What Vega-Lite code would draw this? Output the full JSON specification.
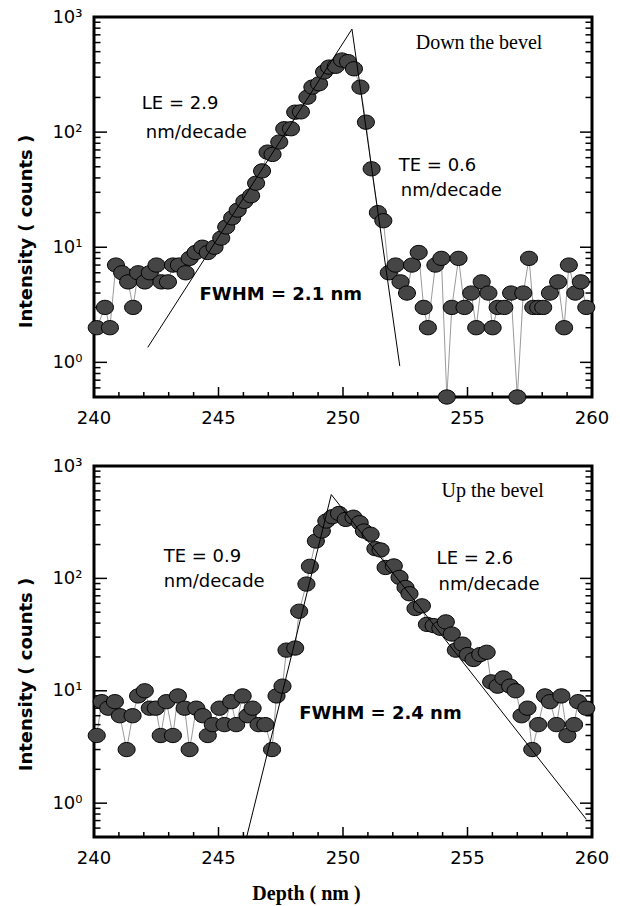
{
  "$schema": "https://vega.github.io/schema/vega-lite/v6.json",
  "padding": {"left": 16, "top": 6, "right": 10, "bottom": 0},
  "spacing": 25,
  "config": {
    "view": {"stroke": "black", "strokeWidth": 3},
    "font": "DejaVu Sans"
  },
  "datasets": {
    "top": [
      {"x": 240.11, "y": 2}, {"x": 240.44, "y": 3}, {"x": 240.64, "y": 2}, {"x": 240.88, "y": 7},
      {"x": 241.13, "y": 6}, {"x": 241.37, "y": 5}, {"x": 241.57, "y": 3}, {"x": 241.77, "y": 6},
      {"x": 242.04, "y": 5}, {"x": 242.24, "y": 6}, {"x": 242.51, "y": 7}, {"x": 242.71, "y": 5},
      {"x": 242.97, "y": 5}, {"x": 243.17, "y": 7}, {"x": 243.41, "y": 7}, {"x": 243.68, "y": 6},
      {"x": 243.84, "y": 8}, {"x": 244.08, "y": 9}, {"x": 244.35, "y": 10}, {"x": 244.57, "y": 9},
      {"x": 244.84, "y": 10}, {"x": 245.11, "y": 12}, {"x": 245.31, "y": 15}, {"x": 245.55, "y": 18},
      {"x": 245.77, "y": 21}, {"x": 246.04, "y": 25}, {"x": 246.31, "y": 28}, {"x": 246.51, "y": 36},
      {"x": 246.75, "y": 46}, {"x": 246.97, "y": 67}, {"x": 247.17, "y": 64}, {"x": 247.44, "y": 82},
      {"x": 247.64, "y": 107}, {"x": 247.91, "y": 107}, {"x": 248.08, "y": 149}, {"x": 248.31, "y": 150},
      {"x": 248.57, "y": 201}, {"x": 248.77, "y": 246}, {"x": 249.04, "y": 263}, {"x": 249.24, "y": 333},
      {"x": 249.44, "y": 367}, {"x": 249.71, "y": 373}, {"x": 249.96, "y": 423}, {"x": 250.2, "y": 410},
      {"x": 250.44, "y": 355}, {"x": 250.7, "y": 246}, {"x": 250.92, "y": 122}, {"x": 251.15, "y": 48},
      {"x": 251.4, "y": 20}, {"x": 251.62, "y": 17}, {"x": 251.84, "y": 6}, {"x": 252.11, "y": 7},
      {"x": 252.31, "y": 5}, {"x": 252.57, "y": 4}, {"x": 252.77, "y": 7}, {"x": 253.04, "y": 9},
      {"x": 253.24, "y": 3}, {"x": 253.41, "y": 2}, {"x": 253.71, "y": 7}, {"x": 253.95, "y": 8},
      {"x": 254.17, "y": 0.5}, {"x": 254.37, "y": 3}, {"x": 254.64, "y": 8}, {"x": 254.88, "y": 3},
      {"x": 255.15, "y": 4}, {"x": 255.35, "y": 2}, {"x": 255.57, "y": 5}, {"x": 255.84, "y": 4},
      {"x": 256.01, "y": 2}, {"x": 256.21, "y": 3}, {"x": 256.48, "y": 3}, {"x": 256.75, "y": 4},
      {"x": 257.0, "y": 0.5}, {"x": 257.24, "y": 4}, {"x": 257.47, "y": 8}, {"x": 257.64, "y": 3},
      {"x": 257.84, "y": 3}, {"x": 258.04, "y": 3}, {"x": 258.31, "y": 4}, {"x": 258.64, "y": 5},
      {"x": 258.88, "y": 2}, {"x": 259.07, "y": 7}, {"x": 259.33, "y": 4}, {"x": 259.55, "y": 5},
      {"x": 259.77, "y": 3}
    ],
    "bottom": [
      {"x": 240.11, "y": 4}, {"x": 240.31, "y": 8}, {"x": 240.57, "y": 7}, {"x": 240.84, "y": 8},
      {"x": 241.04, "y": 6}, {"x": 241.31, "y": 3}, {"x": 241.55, "y": 6}, {"x": 241.77, "y": 9},
      {"x": 242.04, "y": 10}, {"x": 242.24, "y": 7}, {"x": 242.48, "y": 7}, {"x": 242.68, "y": 4},
      {"x": 242.91, "y": 8}, {"x": 243.17, "y": 4}, {"x": 243.37, "y": 9}, {"x": 243.64, "y": 7},
      {"x": 243.84, "y": 3}, {"x": 244.11, "y": 7}, {"x": 244.37, "y": 6}, {"x": 244.57, "y": 4},
      {"x": 244.77, "y": 5}, {"x": 245.04, "y": 7}, {"x": 245.24, "y": 5}, {"x": 245.51, "y": 8},
      {"x": 245.71, "y": 5}, {"x": 245.97, "y": 9}, {"x": 246.17, "y": 6}, {"x": 246.37, "y": 7},
      {"x": 246.61, "y": 5}, {"x": 246.88, "y": 5}, {"x": 247.15, "y": 3}, {"x": 247.33, "y": 9},
      {"x": 247.57, "y": 11}, {"x": 247.73, "y": 23}, {"x": 248.08, "y": 24}, {"x": 248.24, "y": 51},
      {"x": 248.53, "y": 89}, {"x": 248.67, "y": 128}, {"x": 248.91, "y": 215}, {"x": 249.15, "y": 264},
      {"x": 249.33, "y": 324}, {"x": 249.57, "y": 354}, {"x": 249.84, "y": 378}, {"x": 250.11, "y": 335},
      {"x": 250.42, "y": 350}, {"x": 250.67, "y": 313}, {"x": 250.84, "y": 264}, {"x": 251.11, "y": 247},
      {"x": 251.3, "y": 184}, {"x": 251.51, "y": 179}, {"x": 251.71, "y": 125}, {"x": 252.04, "y": 129},
      {"x": 252.27, "y": 102}, {"x": 252.51, "y": 83}, {"x": 252.67, "y": 73}, {"x": 252.91, "y": 54},
      {"x": 253.17, "y": 57}, {"x": 253.37, "y": 39}, {"x": 253.64, "y": 38}, {"x": 253.91, "y": 36},
      {"x": 254.13, "y": 41}, {"x": 254.37, "y": 32}, {"x": 254.53, "y": 23}, {"x": 254.8, "y": 26},
      {"x": 255.01, "y": 21}, {"x": 255.24, "y": 19}, {"x": 255.51, "y": 21}, {"x": 255.77, "y": 22},
      {"x": 255.95, "y": 12}, {"x": 256.21, "y": 11}, {"x": 256.44, "y": 13}, {"x": 256.71, "y": 11},
      {"x": 256.93, "y": 10}, {"x": 257.17, "y": 6}, {"x": 257.41, "y": 7}, {"x": 257.6, "y": 3},
      {"x": 257.84, "y": 5}, {"x": 258.11, "y": 9}, {"x": 258.31, "y": 8}, {"x": 258.57, "y": 5},
      {"x": 258.77, "y": 9}, {"x": 259.01, "y": 4}, {"x": 259.28, "y": 5}, {"x": 259.44, "y": 8},
      {"x": 259.77, "y": 7}
    ],
    "topfit": [{"x": 242.16, "y": 1.35}, {"x": 250.36, "y": 785}, {"x": 252.28, "y": 0.93}],
    "bottomfit": [{"x": 246.13, "y": 0.5}, {"x": 249.53, "y": 557}, {"x": 259.77, "y": 0.72}],
    "toptext": [
      {"x": 241.92, "y": 175, "text": "LE = 2.9"},
      {"x": 242.08, "y": 98, "text": "nm/decade"},
      {"x": 252.24, "y": 50.6, "text": "TE = 0.6"},
      {"x": 252.32, "y": 30.7, "text": "nm/decade"}
    ],
    "topbold": [{"x": 244.24, "y": 3.83, "text": "FWHM = 2.1 nm"}],
    "topserif": [{"x": 252.92, "y": 594, "text": "Down the bevel"}],
    "bottomtext": [
      {"x": 242.8, "y": 154, "text": "TE = 0.9"},
      {"x": 242.8, "y": 92, "text": "nm/decade"},
      {"x": 253.76, "y": 148, "text": "LE = 2.6"},
      {"x": 253.84, "y": 88, "text": "nm/decade"}
    ],
    "bottombold": [{"x": 248.24, "y": 6.24, "text": "FWHM = 2.4 nm"}],
    "bottomserif": [{"x": 253.96, "y": 598, "text": "Up the bevel"}],
    "ymajor": [{"v": 1}, {"v": 10}, {"v": 100}, {"v": 1000}],
    "yminor": [
      {"v": 0.6}, {"v": 0.7}, {"v": 0.8}, {"v": 0.9},
      {"v": 2}, {"v": 3}, {"v": 4}, {"v": 5}, {"v": 6}, {"v": 7}, {"v": 8}, {"v": 9},
      {"v": 20}, {"v": 30}, {"v": 40}, {"v": 50}, {"v": 60}, {"v": 70}, {"v": 80}, {"v": 90},
      {"v": 200}, {"v": 300}, {"v": 400}, {"v": 500}, {"v": 600}, {"v": 700}, {"v": 800}, {"v": 900}
    ],
    "xmajor": [{"v": 245}, {"v": 250}, {"v": 255}],
    "xminor": [
      {"v": 241}, {"v": 242}, {"v": 243}, {"v": 244}, {"v": 246}, {"v": 247}, {"v": 248}, {"v": 249},
      {"v": 251}, {"v": 252}, {"v": 253}, {"v": 254}, {"v": 256}, {"v": 257}, {"v": 258}, {"v": 259}
    ],
    "xlabels": [{"v": 240, "t": "240"}, {"v": 245, "t": "245"}, {"v": 250, "t": "250"}, {"v": 255, "t": "255"}, {"v": 260, "t": "260"}]
  },
  "vconcat": [
    {
      "width": 498,
      "height": 380,
      "layer": [
        {
          "data": {"name": "top"},
          "mark": {"type": "line", "color": "#9a9a9a", "strokeWidth": 1},
          "encoding": {
            "x": {"field": "x", "type": "quantitative", "scale": {"domain": [240, 260], "nice": false, "zero": false},
              "axis": {"labels": false, "ticks": false, "domain": false, "grid": false, "title": null}},
            "y": {"field": "y", "type": "quantitative", "scale": {"type": "log", "domain": [0.5, 1000], "nice": false},
              "axis": {"orient": "left", "values": [1, 10, 100, 1000], "ticks": false,
                "labelExpr": "datum.value == 1000 ? '10³' : datum.value == 100 ? '10²' : datum.value == 10 ? '10¹' : datum.value == 1 ? '10⁰' : ''",
                "domain": false, "grid": false,
                "labelFont": "DejaVu Sans", "labelFontSize": 18, "labelColor": "black", "labelPadding": 12,
                "labelOverlap": false, "labelFlush": false, "labelBound": false,
                "title": "Intensity ( counts )", "titleFont": "DejaVu Sans", "titleFontSize": 18, "titleFontWeight": "bold",
                "titleColor": "black", "titlePadding": 16, "titleY": 214}}
          }
        },
        {
          "data": {"name": "ymajor"},
          "mark": {"type": "tick", "orient": "horizontal", "size": 26, "thickness": 1.5, "color": "black", "clip": true, "opacity": 1},
          "encoding": {"x": {"datum": 240, "type": "quantitative"}, "y": {"field": "v", "type": "quantitative"}}
        },
        {
          "data": {"name": "yminor"},
          "mark": {"type": "tick", "orient": "horizontal", "size": 13, "thickness": 1.5, "color": "black", "clip": true, "opacity": 1},
          "encoding": {"x": {"datum": 240, "type": "quantitative"}, "y": {"field": "v", "type": "quantitative"}}
        },
        {
          "data": {"name": "ymajor"},
          "mark": {"type": "tick", "orient": "horizontal", "size": 24, "thickness": 1.5, "color": "black", "clip": true, "opacity": 1},
          "encoding": {"x": {"datum": 260, "type": "quantitative"}, "y": {"field": "v", "type": "quantitative"}}
        },
        {
          "data": {"name": "yminor"},
          "mark": {"type": "tick", "orient": "horizontal", "size": 13, "thickness": 1.5, "color": "black", "clip": true, "opacity": 1},
          "encoding": {"x": {"datum": 260, "type": "quantitative"}, "y": {"field": "v", "type": "quantitative"}}
        },
        {
          "data": {"name": "xmajor"},
          "mark": {"type": "tick", "orient": "vertical", "size": 20, "thickness": 1.5, "color": "black", "clip": true, "opacity": 1},
          "encoding": {"x": {"field": "v", "type": "quantitative"}, "y": {"datum": 0.5, "type": "quantitative"}}
        },
        {
          "data": {"name": "xminor"},
          "mark": {"type": "tick", "orient": "vertical", "size": 10, "thickness": 1.5, "color": "black", "clip": true, "opacity": 1},
          "encoding": {"x": {"field": "v", "type": "quantitative"}, "y": {"datum": 0.5, "type": "quantitative"}}
        },
        {
          "data": {"name": "xlabels"},
          "mark": {"type": "text", "align": "center", "baseline": "top", "dy": 13, "font": "DejaVu Sans", "fontSize": 18, "color": "black"},
          "encoding": {"x": {"field": "v", "type": "quantitative"}, "y": {"datum": 0.5, "type": "quantitative"}, "text": {"field": "t"}}
        },
        {
          "data": {"name": "top"},
          "mark": {"type": "point", "shape": "M-1.1,0A1.1,0.92 0 1,0 1.1,0A1.1,0.92 0 1,0 -1.1,0Z", "filled": true, "fill": "#454545", "stroke": "black", "strokeWidth": 1, "size": 240, "opacity": 1},
          "encoding": {
            "x": {"field": "x", "type": "quantitative"},
            "y": {"field": "y", "type": "quantitative"}
          }
        },
        {
          "data": {"name": "topfit"},
          "mark": {"type": "line", "color": "black", "strokeWidth": 1},
          "encoding": {
            "x": {"field": "x", "type": "quantitative"},
            "y": {"field": "y", "type": "quantitative"}
          }
        },
        {
          "data": {"name": "toptext"},
          "mark": {"type": "text", "align": "left", "baseline": "middle", "font": "DejaVu Sans", "fontSize": 18, "color": "black"},
          "encoding": {
            "x": {"field": "x", "type": "quantitative"},
            "y": {"field": "y", "type": "quantitative"},
            "text": {"field": "text"}
          }
        },
        {
          "data": {"name": "topbold"},
          "mark": {"type": "text", "align": "left", "baseline": "middle", "font": "DejaVu Sans", "fontSize": 18, "fontWeight": "bold", "color": "black"},
          "encoding": {
            "x": {"field": "x", "type": "quantitative"},
            "y": {"field": "y", "type": "quantitative"},
            "text": {"field": "text"}
          }
        },
        {
          "data": {"name": "topserif"},
          "mark": {"type": "text", "align": "left", "baseline": "middle", "font": "Liberation Serif", "fontSize": 20, "color": "black"},
          "encoding": {
            "x": {"field": "x", "type": "quantitative"},
            "y": {"field": "y", "type": "quantitative"},
            "text": {"field": "text"}
          }
        }
      ]
    },
    {
      "width": 498,
      "height": 371,
      "layer": [
        {
          "data": {"name": "bottom"},
          "mark": {"type": "line", "color": "#9a9a9a", "strokeWidth": 1},
          "encoding": {
            "x": {"field": "x", "type": "quantitative", "scale": {"domain": [240, 260], "nice": false, "zero": false},
              "axis": {"labels": false, "ticks": false, "domain": false, "grid": false,
                "title": "Depth ( nm )", "titleFont": "Liberation Serif", "titleFontSize": 20, "titleFontWeight": "bold",
                "titleColor": "black", "titlePadding": 46, "titleX": 212}},
            "y": {"field": "y", "type": "quantitative", "scale": {"type": "log", "domain": [0.5, 1000], "nice": false},
              "axis": {"orient": "left", "values": [1, 10, 100, 1000], "ticks": false,
                "labelExpr": "datum.value == 1000 ? '10³' : datum.value == 100 ? '10²' : datum.value == 10 ? '10¹' : datum.value == 1 ? '10⁰' : ''",
                "domain": false, "grid": false,
                "labelFont": "DejaVu Sans", "labelFontSize": 18, "labelColor": "black", "labelPadding": 12,
                "labelOverlap": false, "labelFlush": false, "labelBound": false,
                "title": "Intensity ( counts )", "titleFont": "DejaVu Sans", "titleFontSize": 18, "titleFontWeight": "bold",
                "titleColor": "black", "titlePadding": 16, "titleY": 208}}
          }
        },
        {
          "data": {"name": "ymajor"},
          "mark": {"type": "tick", "orient": "horizontal", "size": 26, "thickness": 1.5, "color": "black", "clip": true, "opacity": 1},
          "encoding": {"x": {"datum": 240, "type": "quantitative"}, "y": {"field": "v", "type": "quantitative"}}
        },
        {
          "data": {"name": "yminor"},
          "mark": {"type": "tick", "orient": "horizontal", "size": 13, "thickness": 1.5, "color": "black", "clip": true, "opacity": 1},
          "encoding": {"x": {"datum": 240, "type": "quantitative"}, "y": {"field": "v", "type": "quantitative"}}
        },
        {
          "data": {"name": "ymajor"},
          "mark": {"type": "tick", "orient": "horizontal", "size": 24, "thickness": 1.5, "color": "black", "clip": true, "opacity": 1},
          "encoding": {"x": {"datum": 260, "type": "quantitative"}, "y": {"field": "v", "type": "quantitative"}}
        },
        {
          "data": {"name": "yminor"},
          "mark": {"type": "tick", "orient": "horizontal", "size": 13, "thickness": 1.5, "color": "black", "clip": true, "opacity": 1},
          "encoding": {"x": {"datum": 260, "type": "quantitative"}, "y": {"field": "v", "type": "quantitative"}}
        },
        {
          "data": {"name": "xmajor"},
          "mark": {"type": "tick", "orient": "vertical", "size": 20, "thickness": 1.5, "color": "black", "clip": true, "opacity": 1},
          "encoding": {"x": {"field": "v", "type": "quantitative"}, "y": {"datum": 0.5, "type": "quantitative"}}
        },
        {
          "data": {"name": "xminor"},
          "mark": {"type": "tick", "orient": "vertical", "size": 10, "thickness": 1.5, "color": "black", "clip": true, "opacity": 1},
          "encoding": {"x": {"field": "v", "type": "quantitative"}, "y": {"datum": 0.5, "type": "quantitative"}}
        },
        {
          "data": {"name": "xlabels"},
          "mark": {"type": "text", "align": "center", "baseline": "top", "dy": 13, "font": "DejaVu Sans", "fontSize": 18, "color": "black"},
          "encoding": {"x": {"field": "v", "type": "quantitative"}, "y": {"datum": 0.5, "type": "quantitative"}, "text": {"field": "t"}}
        },
        {
          "data": {"name": "bottom"},
          "mark": {"type": "point", "shape": "M-1.1,0A1.1,0.92 0 1,0 1.1,0A1.1,0.92 0 1,0 -1.1,0Z", "filled": true, "fill": "#454545", "stroke": "black", "strokeWidth": 1, "size": 240, "opacity": 1},
          "encoding": {
            "x": {"field": "x", "type": "quantitative"},
            "y": {"field": "y", "type": "quantitative"}
          }
        },
        {
          "data": {"name": "bottomfit"},
          "mark": {"type": "line", "color": "black", "strokeWidth": 1},
          "encoding": {
            "x": {"field": "x", "type": "quantitative"},
            "y": {"field": "y", "type": "quantitative"}
          }
        },
        {
          "data": {"name": "bottomtext"},
          "mark": {"type": "text", "align": "left", "baseline": "middle", "font": "DejaVu Sans", "fontSize": 18, "color": "black"},
          "encoding": {
            "x": {"field": "x", "type": "quantitative"},
            "y": {"field": "y", "type": "quantitative"},
            "text": {"field": "text"}
          }
        },
        {
          "data": {"name": "bottombold"},
          "mark": {"type": "text", "align": "left", "baseline": "middle", "font": "DejaVu Sans", "fontSize": 18, "fontWeight": "bold", "color": "black"},
          "encoding": {
            "x": {"field": "x", "type": "quantitative"},
            "y": {"field": "y", "type": "quantitative"},
            "text": {"field": "text"}
          }
        },
        {
          "data": {"name": "bottomserif"},
          "mark": {"type": "text", "align": "left", "baseline": "middle", "font": "Liberation Serif", "fontSize": 20, "color": "black"},
          "encoding": {
            "x": {"field": "x", "type": "quantitative"},
            "y": {"field": "y", "type": "quantitative"},
            "text": {"field": "text"}
          }
        }
      ]
    }
  ]
}
